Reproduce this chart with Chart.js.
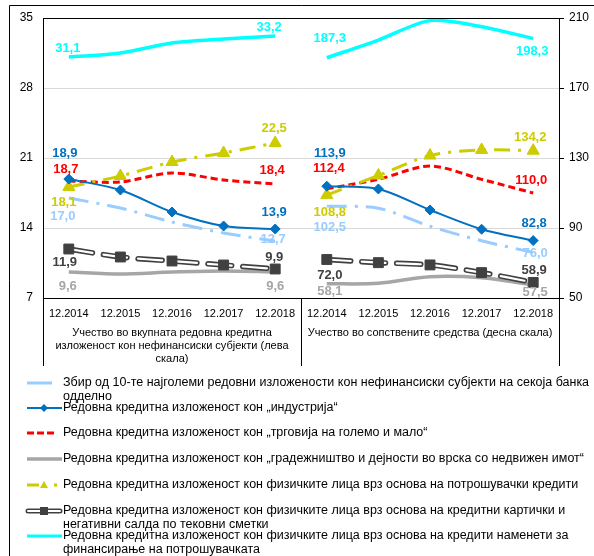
<!DOCTYPE html>
<html>
<head>
<meta charset="utf-8">
<script src="https://cdn.jsdelivr.net/npm/chart.js@4.4.0/dist/chart.umd.min.js"></script>
<style>
  html, body { margin: 0; padding: 0; background: #fff; }
  #wrap { width: 594px; height: 556px; position: relative; }
</style>
</head>
<body>
<div id="wrap"><canvas id="c" width="594" height="556"></canvas></div>
<script>
// --- datos ---
const periods = ["12.2014", "12.2015", "12.2016", "12.2017", "12.2018"];
const groupLabels = [
  ["Учество во вкупната редовна кредитна", "изложеност кон нефинансиски субјекти (лева", "скала)"],
  ["Учество во сопствените средства (десна скала)"]
];
const leftTicks = [7, 14, 21, 28, 35];
const rightTicks = [50, 90, 130, 170, 210];

// лева скала (% од вкупната редовна кредитна изложеност)
const top10L = [17.0, 16.0, 14.6, 13.5, 12.7];
const industryL = [18.9, 17.8, 15.6, 14.2, 13.9];
const tradeL = [18.7, 18.6, 19.5, 18.8, 18.4];
const constructL = [9.6, 9.4, 9.6, 9.7, 9.6];
const consumerL = [18.1, 19.2, 20.6, 21.5, 22.5];
const cardsL = [11.9, 11.1, 10.7, 10.3, 9.9];
const financingL = [31.1, 31.5, 32.5, 32.9, 33.2];
// десна скала (% од сопствените средства)
const top10R = [102.5, 101.3, 91.0, 82.7, 76.0];
const industryR = [113.9, 112.3, 100.3, 89.3, 82.8];
const tradeR = [112.4, 117.8, 125.4, 117.8, 110.0];
const constructR = [58.1, 58.4, 62.2, 61.6, 57.5];
const consumerR = [108.8, 120.0, 131.4, 134.6, 134.2];
const cardsR = [72.0, 70.2, 68.9, 64.5, 58.9];
const financingR = [187.3, 197.4, 208.5, 205.0, 198.3];

const names = [
  ["Збир од 10-те најголеми редовни изложености кон нефинансиски субјекти на секоја банка", "одделно"],
  ["Редовна кредитна изложеност кон „индустрија“"],
  ["Редовна кредитна изложеност кон „трговија на големо и мало“"],
  ["Редовна кредитна изложеност кон „градежништво и дејности во врска со недвижен имот“"],
  ["Редовна кредитна изложеност кон физичките лица врз основа на потрошувачки кредити"],
  ["Редовна кредитна изложеност кон физичките лица врз основа на кредитни картички и", "негативни салда по тековни сметки"],
  ["Редовна кредитна изложеност кон физичките лица врз основа на кредити наменети за", "финансирање на потрошувачката"]
];

// --- estilos (colores, trazos, desplazamiento de etiquetas: primer/último punto) ---
const FONT = "'Liberation Sans', Arial, sans-serif";
const series = [
  { key: "top10", L: top10L, R: top10R, color: "#99CCFF", width: 3, dash: [20, 8, 3, 8], order: 6,
    off: { L: [[-6, 18], [-2, -2]], R: [[3, 21], [2, 1]] } },
  { key: "industry", L: industryL, R: industryR, color: "#0070C0", width: 2, marker: { style: "rectRot", r: 5 }, order: 3,
    off: { L: [[-4, -26], [-1, -17]], R: [[3, -33], [1, -17]] } },
  { key: "trade", L: tradeL, R: tradeR, color: "#FF0000", width: 3, dash: [7, 4], order: 5,
    off: { L: [[-3, -12], [-3, -14]], R: [[2, -20], [-2, -13]] } },
  { key: "construct", L: constructL, R: constructR, color: "#A6A6A6", width: 3.5, order: 7,
    off: { L: [[-1, 14], [0, 14]], R: [[3, 8], [2, 8]] } },
  { key: "consumer", L: consumerL, R: consumerR, color: "#CCCC00", width: 3, dash: [16, 8, 3, 8], marker: { style: "triangle", r: 7 }, order: 4,
    off: { L: [[-5, 15], [-1, -15]], R: [[3, 17], [-3, -13]] } },
  { key: "cards", L: cardsL, R: cardsR, color: "#404040", labelColor: "#404040", width: 5.5, order: 2,
    off: { L: [[-4, 13], [-1, -12]], R: [[3, 16], [1, -12]] } },
  { key: "financing", L: financingL, R: financingR, color: "#00FFFF", width: 3.5, order: 1,
    off: { L: [[-1, -9], [-6, -9]], R: [[3, -19], [-1, 13]] } }
];

const pad = [null, null, null, null, null];
const datasets = [];
series.forEach((s, si) => {
  ["L", "R"].forEach((side) => {
    const data = side === "L" ? [...s[side], ...pad] : [...pad, ...s[side]];
    const yAxisID = side === "L" ? "y" : "y1";
    if (s.key === "cards") {
      // línea doble: trazo oscuro + interior blanco + cuadrados encima
      datasets.push({ data, yAxisID, borderColor: s.color, borderWidth: 5.5, borderDash: [24, 11], borderCapStyle: "round", tension: 0.3, pointRadius: 0, order: 12, _s: si, _side: side });
      datasets.push({ data, yAxisID, borderColor: "#fff", borderWidth: 2.2, borderDash: [24, 11], borderCapStyle: "round", tension: 0.3, pointRadius: 0, order: 11 });
      datasets.push({ data, yAxisID, showLine: false, pointStyle: "rect", pointRadius: 7, pointBackgroundColor: s.color, pointBorderColor: s.color, order: 10 });
    } else {
      datasets.push({
        data, yAxisID, borderColor: s.color, borderWidth: s.width, borderDash: s.dash || [],
        tension: 0.3, fill: false,
        pointRadius: s.marker ? s.marker.r : 0, pointStyle: s.marker ? s.marker.style : "circle",
        pointBackgroundColor: s.color, pointBorderColor: s.color, pointBorderWidth: 1,
        order: s.order * 2, _s: si, _side: side
      });
    }
  });
});

const fmtV = (v) => v.toFixed(1).replace(".", ",");

// etiquetas de datos solo en el primer y último punto de cada panel
const endLabels = {
  id: "endLabels",
  afterDatasetsDraw(chart) {
    const { ctx } = chart;
    ctx.save();
    ctx.font = "bold 13px " + FONT;
    ctx.textAlign = "center";
    ctx.textBaseline = "middle";
    chart.data.datasets.forEach((ds, i) => {
      if (ds._s === undefined) return;
      const s = series[ds._s];
      const meta = chart.getDatasetMeta(i);
      const idx = ds._side === "L" ? [0, 4] : [5, 9];
      const vals = s[ds._side];
      idx.forEach((k, j) => {
        const el = meta.data[k];
        const o = s.off[ds._side][j];
        ctx.fillStyle = s.labelColor || s.color;
        ctx.fillText(fmtV(vals[j === 0 ? 0 : 4]), el.x + o[0], el.y + o[1]);
      });
    });
    ctx.restore();
  }
};

function swatch(ctx, s, y) {
  ctx.save();
  ctx.strokeStyle = s.color;
  ctx.fillStyle = s.color;
  const line = (x1, x2, w, dash) => {
    ctx.lineWidth = w; ctx.setLineDash(dash || []);
    ctx.beginPath(); ctx.moveTo(x1, y); ctx.lineTo(x2, y); ctx.stroke();
  };
  switch (s.key) {
    case "top10": line(27, 52, 3); break;
    case "industry":
      line(27, 62, 2);
      ctx.beginPath(); ctx.moveTo(44, y - 4); ctx.lineTo(48, y); ctx.lineTo(44, y + 4); ctx.lineTo(40, y); ctx.closePath(); ctx.fill();
      break;
    case "trade": line(27, 55, 3, [7, 3]); break;
    case "construct": line(27, 62, 3.5); break;
    case "consumer":
      line(27, 39, 3);
      ctx.beginPath(); ctx.moveTo(44, y - 4); ctx.lineTo(48, y + 3); ctx.lineTo(40, y + 3); ctx.closePath(); ctx.fill();
      line(54, 57, 3);
      break;
    case "cards":
      ctx.lineCap = "round";
      line(28, 60, 5);
      ctx.strokeStyle = "#fff"; line(28, 60, 2);
      ctx.fillStyle = s.color; ctx.fillRect(40, y - 4, 8, 8);
      break;
    case "financing": line(27, 62, 3); break;
  }
  ctx.restore();
}

const frame = {
  id: "frame",
  beforeDraw(chart) {
    const { ctx, width, height } = chart;
    ctx.save(); ctx.fillStyle = "#fff"; ctx.fillRect(0, 0, width, height); ctx.restore();
  },
  afterDraw(chart) {
    const { ctx, chartArea: a } = chart;
    ctx.save();
    ctx.strokeStyle = "#000";
    ctx.lineWidth = 1;
    // marco exterior
    ctx.beginPath(); ctx.moveTo(9.5, 556); ctx.lineTo(9.5, 5.5); ctx.lineTo(594, 5.5); ctx.stroke();
    // borde superior del área
    ctx.beginPath(); ctx.moveTo(a.left, Math.round(a.top) + 0.5); ctx.lineTo(a.right, Math.round(a.top) + 0.5); ctx.stroke();
    // divisores bajo el eje x
    const mid = (a.left + a.right) / 2;
    [a.left, mid, a.right].forEach((x) => {
      const px = Math.round(x) + 0.5;
      ctx.beginPath(); ctx.moveTo(px, a.bottom); ctx.lineTo(px, 366); ctx.stroke();
    });
    // etiquetas de grupo
    ctx.fillStyle = "#000";
    ctx.font = "11px " + FONT;
    ctx.textAlign = "center";
    ctx.textBaseline = "middle";
    const w = a.right - a.left;
    groupLabels.forEach((lines, g) => {
      const cx = a.left + w / 4 + g * w / 2;
      lines.forEach((t, k) => ctx.fillText(t, cx, 333 + k * 13));
    });
    // leyenda
    const ys = [383, 408, 433, 459, 485, 511, 536];
    ctx.font = "12.5px " + FONT;
    ctx.textAlign = "left";
    series.forEach((s, i) => {
      swatch(ctx, s, ys[i]);
      ctx.fillStyle = "#000";
      names[i].forEach((t, k) => ctx.fillText(t, 63, ys[i] + k * 13.5));
    });
    ctx.restore();
  }
};

new Chart(document.getElementById("c").getContext("2d"), {
  type: "line",
  data: { labels: [...periods, ...periods], datasets },
  options: {
    responsive: false, animation: false, events: [],
    layout: { padding: { top: 18, left: 0, right: 0, bottom: 0 } },
    plugins: { legend: { display: false }, tooltip: { enabled: false } },
    scales: {
      x: {
        type: "category", offset: true,
        grid: { display: false, drawTicks: false },
        border: { color: "#000" },
        ticks: { color: "#000", font: { family: FONT, size: 11 }, padding: 9, maxRotation: 0, autoSkip: false },
        afterFit: (s) => { s.height = 258; }
      },
      y: {
        position: "left", min: leftTicks[0], max: leftTicks[leftTicks.length - 1],
        ticks: { stepSize: leftTicks[1] - leftTicks[0], color: "#000", font: { family: FONT, size: 12 }, padding: 10 },
        grid: { color: "#D9D9D9", drawTicks: false },
        border: { color: "#000" },
        afterFit: (s) => { s.width = 43; }
      },
      y1: {
        position: "right", min: rightTicks[0], max: rightTicks[rightTicks.length - 1],
        ticks: { stepSize: rightTicks[1] - rightTicks[0], color: "#000", font: { family: FONT, size: 12 }, padding: 5 },
        grid: { drawOnChartArea: false, color: "#000", tickLength: 5 },
        border: { color: "#000" },
        afterFit: (s) => { s.width = 35; }
      }
    }
  },
  plugins: [frame, endLabels]
});
</script>
</body>
</html>
